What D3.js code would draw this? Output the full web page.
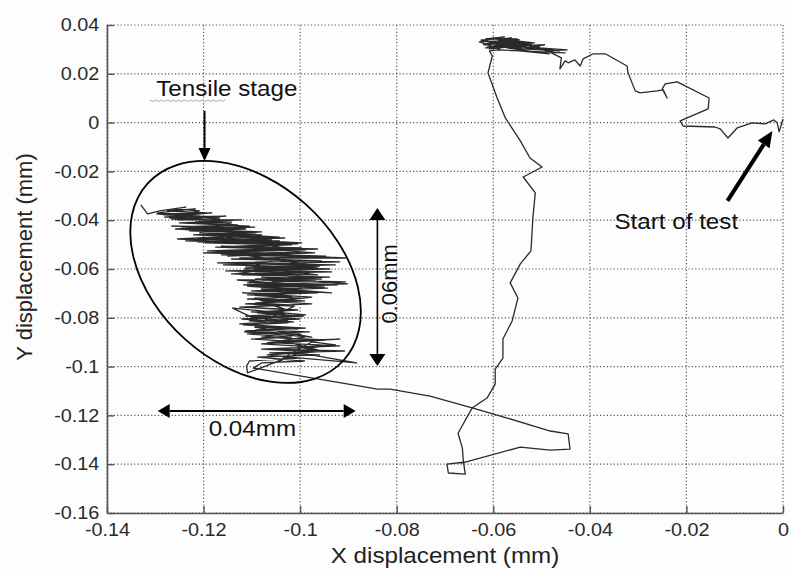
<!DOCTYPE html>
<html>
<head>
<meta charset="utf-8">
<script src="https://cdn.jsdelivr.net/npm/d3@7"></script>
<style>
  body { margin: 0; background: #fff; }
  svg { display: block; font-family: Arial, "Liberation Sans", sans-serif; }
</style>
</head>
<body>
<div id="chart"></div>
<script>
// axis ticks (mm)
const xTicks = [-0.14, -0.12, -0.1, -0.08, -0.06, -0.04, -0.02, 0];
const yTicks = [0.04, 0.02, 0, -0.02, -0.04, -0.06, -0.08, -0.1, -0.12, -0.14, -0.16];

// displacement track, [x, y] in mm
const startTrail = [
  [0.0000, 0.0015], [-0.0008, -0.0038], [-0.0012, -0.0001], [-0.0019, 0.0011],
  [-0.0037, -0.0005], [-0.0064, -0.0001], [-0.0095, -0.0022], [-0.0114, -0.0063],
  [-0.0130, -0.0026], [-0.0141, -0.0018], [-0.0207, -0.0014], [-0.0213, 0.0007],
  [-0.0155, 0.0056], [-0.0153, 0.0101], [-0.0219, 0.0167], [-0.0244, 0.0159],
  [-0.0250, 0.0138], [-0.0240, 0.0101], [-0.0248, 0.0134], [-0.0261, 0.0130],
  [-0.0296, 0.0122], [-0.0306, 0.0130], [-0.0321, 0.0204], [-0.0323, 0.0232],
  [-0.0368, 0.0282], [-0.0393, 0.0282], [-0.0414, 0.0261], [-0.0420, 0.0232],
  [-0.0431, 0.0257], [-0.0445, 0.0245], [-0.0451, 0.0253], [-0.0462, 0.0220]
];
const topCluster = [
  [-0.0459, 0.0265], [-0.0488, 0.0294], [-0.0447, 0.0298], [-0.0504, 0.0306],
  [-0.0471, 0.0286], [-0.0525, 0.0310], [-0.0494, 0.0319], [-0.0546, 0.0314],
  [-0.0515, 0.0298], [-0.0562, 0.0327], [-0.0529, 0.0327], [-0.0587, 0.0335],
  [-0.0550, 0.0343], [-0.0616, 0.0343], [-0.0577, 0.0351], [-0.0625, 0.0335],
  [-0.0567, 0.0319], [-0.0608, 0.0327], [-0.0542, 0.0306], [-0.0598, 0.0314],
  [-0.0556, 0.0335], [-0.0618, 0.0323], [-0.0587, 0.0302],
  [-0.0629, 0.0331], [-0.0546, 0.0339], [-0.0620, 0.0319], [-0.0533, 0.0331],
  [-0.0612, 0.0310], [-0.0521, 0.0319], [-0.0608, 0.0302], [-0.0562, 0.0347],
  [-0.0625, 0.0339], [-0.0577, 0.0323], [-0.0504, 0.0310], [-0.0604, 0.0331],
  [-0.0536, 0.0298], [-0.0591, 0.0343], [-0.0515, 0.0327], [-0.0616, 0.0306],
  [-0.0554, 0.0314], [-0.0600, 0.0347], [-0.0496, 0.0302], [-0.0587, 0.0319],
  [-0.0463, 0.0294], [-0.0571, 0.0306], [-0.0484, 0.0282], [-0.0546, 0.0294],
  [-0.0451, 0.0286], [-0.0590, 0.0298],
  [-0.0608, 0.0294], [-0.0602, 0.0273]
];
const descent = [
  [-0.0611, 0.0204], [-0.0592, 0.0101], [-0.0575, 0.0019], [-0.0544, -0.0075],
  [-0.0524, -0.0145], [-0.0499, -0.0182], [-0.0538, -0.0223], [-0.0513, -0.0288],
  [-0.0518, -0.0391], [-0.0522, -0.0526], [-0.0544, -0.0579], [-0.0565, -0.0657],
  [-0.0549, -0.0719], [-0.0561, -0.0813], [-0.0580, -0.0887], [-0.0580, -0.0965],
  [-0.0596, -0.1010], [-0.0596, -0.1072], [-0.0613, -0.1129], [-0.0644, -0.1170],
  [-0.0673, -0.1273], [-0.0664, -0.1334], [-0.0662, -0.1388], [-0.0658, -0.1441],
  [-0.0693, -0.1436], [-0.0696, -0.1400], [-0.0658, -0.1391], [-0.0544, -0.1330],
  [-0.0482, -0.1342], [-0.0441, -0.1338], [-0.0445, -0.1276], [-0.0482, -0.1264],
  [-0.0571, -0.1211], [-0.0642, -0.1170], [-0.0731, -0.1121], [-0.0814, -0.1092],
  [-0.0840, -0.1092], [-0.0903, -0.1071], [-0.1097, -0.1006]
];
// tensile stage: dense zigzag, first pass upward
const tensileUp = [
  [-0.1080, -0.0985], [-0.0991, -0.0977], [-0.1088, -0.0961], [-0.0960, -0.0952],
  [-0.1063, -0.0944], [-0.0908, -0.0936], [-0.1068, -0.0928], [-0.0964, -0.0920],
  [-0.1080, -0.0907], [-0.1001, -0.0899], [-0.1101, -0.0887], [-0.1018, -0.0879],
  [-0.1109, -0.0866], [-0.0981, -0.0858], [-0.1092, -0.0850], [-0.1010, -0.0842],
  [-0.1117, -0.0829], [-0.1026, -0.0821], [-0.1105, -0.0813], [-0.1001, -0.0805],
  [-0.1113, -0.0793], [-0.1032, -0.0784], [-0.1101, -0.0776], [-0.1005, -0.0768],
  [-0.1117, -0.0756], [-0.1022, -0.0747], [-0.1092, -0.0739], [-0.0991, -0.0731],
  [-0.1109, -0.0723], [-0.1018, -0.0715], [-0.1088, -0.0706], [-0.0964, -0.0698],
  [-0.1101, -0.0690], [-0.0997, -0.0682], [-0.1084, -0.0674], [-0.0923, -0.0665],
  [-0.1109, -0.0657], [-0.0968, -0.0649], [-0.1092, -0.0641], [-0.0939, -0.0633],
  [-0.1121, -0.0624], [-0.0989, -0.0616], [-0.1138, -0.0608], [-0.0956, -0.0600],
  [-0.1113, -0.0592], [-0.0927, -0.0583], [-0.1150, -0.0575], [-0.0976, -0.0567],
  [-0.1130, -0.0559], [-0.0939, -0.0551], [-0.1163, -0.0542], [-0.1001, -0.0534],
  [-0.1183, -0.0526], [-0.0964, -0.0518], [-0.1155, -0.0510], [-0.1018, -0.0501],
  [-0.1196, -0.0493], [-0.1043, -0.0485], [-0.1212, -0.0477], [-0.1080, -0.0469],
  [-0.1188, -0.0460], [-0.1092, -0.0452], [-0.1229, -0.0444], [-0.1113, -0.0436],
  [-0.1246, -0.0428], [-0.1130, -0.0419], [-0.1217, -0.0411], [-0.1150, -0.0403],
  [-0.1266, -0.0395], [-0.1167, -0.0387], [-0.1283, -0.0378], [-0.1196, -0.0370],
  [-0.1275, -0.0362], [-0.1217, -0.0354], [-0.1295, -0.0370]
];
// second pass downward
const tensileDown = [
  [-0.1208, -0.0383], [-0.1270, -0.0391], [-0.1142, -0.0403], [-0.1250, -0.0411],
  [-0.1105, -0.0424], [-0.1258, -0.0436], [-0.1080, -0.0448], [-0.1221, -0.0460],
  [-0.1032, -0.0473], [-0.1237, -0.0485], [-0.1005, -0.0497], [-0.1175, -0.0510],
  [-0.0989, -0.0522], [-0.1200, -0.0534], [-0.0947, -0.0547], [-0.1142, -0.0559],
  [-0.0918, -0.0571], [-0.1159, -0.0583], [-0.0964, -0.0592], [-0.1096, -0.0604],
  [-0.0935, -0.0612], [-0.1142, -0.0620], [-0.0968, -0.0633], [-0.1080, -0.0645],
  [-0.0906, -0.0653], [-0.1117, -0.0665], [-0.0943, -0.0678], [-0.1063, -0.0686],
  [-0.0976, -0.0694], [-0.1109, -0.0706], [-0.1001, -0.0719], [-0.1080, -0.0731],
  [-0.0976, -0.0743], [-0.1125, -0.0756], [-0.1010, -0.0768], [-0.1088, -0.0780],
  [-0.0993, -0.0793], [-0.1121, -0.0805], [-0.1014, -0.0817], [-0.1101, -0.0829],
  [-0.0989, -0.0842], [-0.1113, -0.0854], [-0.1005, -0.0866], [-0.1080, -0.0879],
  [-0.0947, -0.0891], [-0.1051, -0.0903], [-0.0918, -0.0915], [-0.1080, -0.0928],
  [-0.0964, -0.0940], [-0.1068, -0.0952], [-0.1001, -0.0965], [-0.1105, -0.0977]
];
// last pass upward, ending in the tail at the top left
const tensileCluster = [
  [-0.1111, -0.0998], [-0.1109, -0.1026], [-0.1088, -0.1010], [-0.1001, -0.0944],
  [-0.0883, -0.0985], [-0.1022, -0.0961], [-0.1053, -0.0985], [-0.0991, -0.0915],
  [-0.0976, -0.0899], [-0.0927, -0.0911], [-0.1005, -0.0920], [-0.0956, -0.0936],
  [-0.1036, -0.0895], [-0.0918, -0.0887], [-0.1068, -0.0903], [-0.0991, -0.0879],
  [-0.1001, -0.0866], [-0.1115, -0.0858], [-0.0976, -0.0879], [-0.1094, -0.0838],
  [-0.1005, -0.0846], [-0.1125, -0.0825], [-0.1026, -0.0813], [-0.1101, -0.0797],
  [-0.0989, -0.0788], [-0.1080, -0.0772], [-0.1140, -0.0760], [-0.1080, -0.0817],
  [-0.1012, -0.0752], [-0.1113, -0.0743], [-0.1001, -0.0731], [-0.1094, -0.0719],
  [-0.1032, -0.0764], [-0.1074, -0.0739], [-0.0976, -0.0715], [-0.1119, -0.0698],
  [-0.1012, -0.0702], [-0.1080, -0.0682], [-0.0935, -0.0698], [-0.1109, -0.0670],
  [-0.0902, -0.0661], [-0.1080, -0.0633], [-0.0956, -0.0641], [-0.1130, -0.0645],
  [-0.1001, -0.0665], [-0.1105, -0.0653], [-0.0950, -0.0674], [-0.1074, -0.0661],
  [-0.0981, -0.0616], [-0.1154, -0.0608], [-0.0939, -0.0600], [-0.1101, -0.0592],
  [-0.0964, -0.0624], [-0.1136, -0.0620], [-0.0991, -0.0584], [-0.1171, -0.0575],
  [-0.0956, -0.0567], [-0.1125, -0.0555], [-0.0906, -0.0555], [-0.1146, -0.0534],
  [-0.0960, -0.0588], [-0.1115, -0.0600], [-0.1018, -0.0542], [-0.1192, -0.0526],
  [-0.0997, -0.0514], [-0.1163, -0.0506], [-0.0970, -0.0534], [-0.1150, -0.0547],
  [-0.1034, -0.0501], [-0.1212, -0.0489], [-0.1059, -0.0481], [-0.1183, -0.0473],
  [-0.0997, -0.0493], [-0.1254, -0.0477], [-0.1080, -0.0460], [-0.1208, -0.0452],
  [-0.1043, -0.0469], [-0.1177, -0.0485], [-0.1101, -0.0448], [-0.1237, -0.0440],
  [-0.1125, -0.0432], [-0.1266, -0.0424], [-0.1094, -0.0428], [-0.1198, -0.0436],
  [-0.1142, -0.0411], [-0.1217, -0.0407], [-0.1121, -0.0399], [-0.1254, -0.0399],
  [-0.1154, -0.0383], [-0.1281, -0.0387], [-0.1183, -0.0370], [-0.1297, -0.0374],
  [-0.1167, -0.0395], [-0.1250, -0.0378], [-0.1208, -0.0362], [-0.1262, -0.0354],
  [-0.1237, -0.0346], [-0.1291, -0.0362], [-0.1316, -0.0374], [-0.1330, -0.0337]
];

const W = 791, H = 576;
const margin = { top: 25, right: 8, bottom: 63, left: 107 };
const width = W - margin.left - margin.right;
const height = H - margin.top - margin.bottom;
const stretch = 1.1; // the scanned figure is a bit wider than tall

const svg = d3.select("#chart").append("svg")
  .attr("width", W).attr("height", H);
svg.append("rect").attr("width", W).attr("height", H).attr("fill", "#fdfdfd");

const g = svg.append("g").attr("transform", `translate(${margin.left},${margin.top})`);

const x = d3.scaleLinear().domain([-0.14, 0]).range([0, width]);
const y = d3.scaleLinear().domain([-0.16, 0.04]).range([height, 0]);
const fmt = d => String(+d.toFixed(2));

// dotted grid
g.append("g").selectAll("line").data(xTicks).join("line")
  .attr("x1", d => x(d)).attr("x2", d => x(d)).attr("y1", 0).attr("y2", height)
  .attr("stroke", "#555").attr("stroke-width", 1.2).attr("stroke-dasharray", "1.2,2.2");
g.append("g").selectAll("line").data(yTicks).join("line")
  .attr("y1", d => y(d)).attr("y2", d => y(d)).attr("x1", 0).attr("x2", width)
  .attr("stroke", "#555").attr("stroke-width", 1.2).attr("stroke-dasharray", "1.2,2.2");

// axes
const xAxis = g.append("g").attr("transform", `translate(0,${height})`)
  .call(d3.axisBottom(x).tickValues(xTicks).tickFormat(fmt).tickSizeInner(-7).tickSizeOuter(0));
xAxis.selectAll("text").attr("y", 23).attr("dy", null)
  .attr("transform", `scale(${stretch},1)`);

const yAxis = g.append("g")
  .call(d3.axisLeft(y).tickValues(yTicks).tickFormat(fmt).tickSizeInner(-7).tickSizeOuter(0));
yAxis.selectAll("text").attr("x", -7)
  .attr("transform", `scale(${stretch},1)`);

[xAxis, yAxis].forEach(a => {
  a.select(".domain").attr("stroke", "#555").attr("stroke-width", 1.6);
  a.selectAll(".tick line").attr("stroke", "#555").attr("stroke-width", 1.4);
  a.selectAll("text").style("font-size", "18px").attr("fill", "#2a2a2a");
});

// track
const track = [...startTrail, ...topCluster, ...descent, ...tensileUp, ...tensileDown, ...tensileCluster];
g.append("path").datum(track)
  .attr("fill", "none").attr("stroke", "#2a2a2a").attr("stroke-width", 1.3)
  .attr("stroke-linejoin", "round")
  .attr("d", d3.line().x(d => x(d[0])).y(d => y(d[1])));

// axis titles
svg.append("text")
  .attr("transform", `translate(${margin.left + x(-0.07)},563) scale(${stretch},1)`)
  .attr("text-anchor", "middle").style("font-size", "22px").attr("fill", "#222")
  .text("X displacement (mm)");
svg.append("text")
  .attr("transform", `translate(32,257) rotate(-90)`)
  .attr("text-anchor", "middle").style("font-size", "22px").attr("fill", "#222")
  .text("Y displacement (mm)");

// annotations
const ann = g.append("g");
function label(txt, cx, cy, rot) {
  ann.append("text")
    .attr("transform", rot
      ? `translate(${x(cx)},${y(cy)}) rotate(${rot})`
      : `translate(${x(cx)},${y(cy)}) scale(${stretch},1)`)
    .attr("text-anchor", "middle").style("font-size", "22px").attr("fill", "#111")
    .text(txt);
}
function head(x1, y1, x2, y2, len, hw) {
  const L = Math.hypot(x2 - x1, y2 - y1), ux = (x2 - x1) / L, uy = (y2 - y1) / L;
  const bx = x2 - ux * len, by = y2 - uy * len;
  ann.append("path")
    .attr("d", `M${x2},${y2}L${bx - uy * hw},${by + ux * hw}L${bx + uy * hw},${by - ux * hw}Z`)
    .attr("fill", "#000");
  return [bx, by];
}
function arrow(a, b, opt) {
  const x1 = x(a[0]), y1 = y(a[1]), x2 = x(b[0]), y2 = y(b[1]);
  let s = [x1, y1];
  if (opt.both) s = head(x2, y2, x1, y1, opt.len, opt.hw);
  const e = head(x1, y1, x2, y2, opt.len, opt.hw);
  ann.append("line").attr("x1", s[0]).attr("y1", s[1]).attr("x2", e[0]).attr("y2", e[1])
    .attr("stroke", "#000").attr("stroke-width", opt.w);
}

// tensile stage ellipse
ann.append("ellipse")
  .attr("transform", `translate(${x(-0.1113)},${y(-0.0612)}) rotate(42)`)
  .attr("rx", 132).attr("ry", 90.5)
  .attr("fill", "none").attr("stroke", "#000").attr("stroke-width", 1.8);

label("Tensile stage", -0.1152, 0.0109);
// spell-check squiggle under "Tensile"
const sq = [];
for (let i = 0; i <= 26; i++) sq.push([x(-0.1311) + i * 2.9, y(0.0109) + 4 + (i % 2 ? 1.5 : 0)]);
ann.append("path").attr("d", d3.line()(sq)).attr("fill", "none")
  .attr("stroke", "#aaa").attr("stroke-width", 1);
arrow([-0.1198, 0.0048], [-0.1198, -0.0157], { len: 13, hw: 6, w: 2 });

arrow([-0.0840, -0.0350], [-0.0840, -0.0998], { both: true, len: 12, hw: 8, w: 1.6 });
label("0.06mm", -0.0800, -0.0661, -90);

arrow([-0.1295, -0.1182], [-0.0885, -0.1182], { both: true, len: 12, hw: 7, w: 2 });
label("0.04mm", -0.1099, -0.1285);

label("Start of test", -0.0221, -0.0436);
arrow([-0.0115, -0.0321], [-0.0022, -0.0034], { len: 16, hw: 7, w: 4 });
</script>
</body>
</html>
